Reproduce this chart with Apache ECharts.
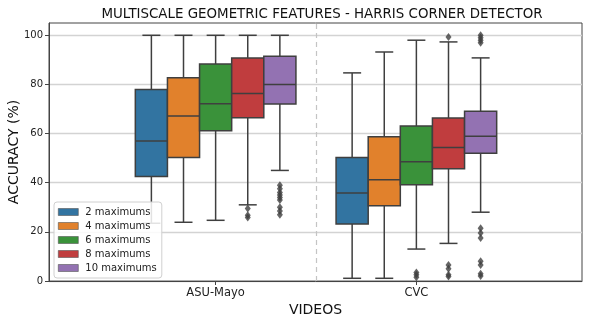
<!DOCTYPE html>
<html><head><meta charset="utf-8">
<script src="https://cdn.jsdelivr.net/npm/echarts@6/dist/echarts.min.js"></script>
<style>html,body{margin:0;padding:0;background:#fff}#c{width:589px;height:323px}</style>
</head><body><div id="c"></div>
<script>
const categories = ['ASU-Mayo', 'CVC'];
const seriesNames = ['2 maximums', '4 maximums', '6 maximums', '8 maximums', '10 maximums'];
// per category: [lower whisker, Q1, median, Q3, upper whisker]
const box2  = [[23.5, 42.5, 57.0, 77.9, 100], [1.1, 23.2, 35.8, 50.3, 84.7]];
const box4  = [[23.9, 50.3, 67.2, 82.7, 100], [1.1, 30.6, 41.2, 58.7, 93.2]];
const box6  = [[24.7, 61.1, 72.1, 88.3, 100], [13.0, 39.2, 48.5, 63.1, 98.0]];
const box8  = [[31.0, 66.4, 76.3, 90.8, 100], [15.3, 45.7, 54.3, 66.3, 97.3]];
const box10 = [[45.0, 72.0, 80.0, 91.5, 100], [28.0, 52.0, 58.9, 69.1, 90.8]];
// outliers per category
const out2  = [[], []];
const out4  = [[], []];
const out6  = [[], [3.5, 2.5, 1.5]];
const out8  = [[29.5, 26.8, 25.8], [99.3, 6.5, 5.0, 2.5, 1.8]];
const out10 = [[39, 37.5, 36, 35, 34, 33, 30, 28.5, 27], [100, 99, 98, 97, 21.5, 19.5, 17.5, 8, 6.5, 3, 2]];
const yTicks = [0, 20, 40, 60, 80, 100];

const colors = ['#3274A1', '#E1812C', '#3A923A', '#C03D3E', '#9372B2'];
const boxes = [box2, box4, box6, box8, box10];
const outs = [out2, out4, out6, out8, out10];
const EDGE = '#3f3f3f';
const HALF = 0.08;

function renderBox(params, api) {
  const x = api.value(0);
  const lo = api.value(1), q1 = api.value(2), md = api.value(3), q3 = api.value(4), hi = api.value(5);
  const a = api.coord([x - HALF, q3]);
  const b = api.coord([x + HALF, q1]);
  const c = api.coord([x, lo]);
  const d = api.coord([x, hi]);
  const m = api.coord([x, md]);
  const capHalf = (b[0] - a[0]) * 0.28;
  const ls = { stroke: EDGE, lineWidth: 1.5 };
  return {
    type: 'group',
    children: [
      { type: 'line', shape: { x1: c[0], y1: b[1], x2: c[0], y2: c[1] }, style: ls },
      { type: 'line', shape: { x1: d[0], y1: a[1], x2: d[0], y2: d[1] }, style: ls },
      { type: 'line', shape: { x1: c[0] - capHalf, y1: c[1], x2: c[0] + capHalf, y2: c[1] }, style: ls },
      { type: 'line', shape: { x1: d[0] - capHalf, y1: d[1], x2: d[0] + capHalf, y2: d[1] }, style: ls },
      { type: 'rect', shape: { x: a[0], y: a[1], width: b[0] - a[0], height: b[1] - a[1] },
        style: { fill: api.visual('color'), stroke: EDGE, lineWidth: 1.5 } },
      { type: 'line', shape: { x1: a[0], y1: m[1], x2: b[0], y2: m[1] }, style: ls }
    ]
  };
}

const series = [];
seriesNames.forEach(function (name, i) {
  const offset = (i - 2) * 2 * HALF;
  const data = boxes[i].map(function (s, ci) { return [ci + offset].concat(s); });
  const ser = {
    name: name, type: 'custom', renderItem: renderBox, data: data,
    itemStyle: { color: colors[i] }, z: 3,
    encode: { x: 0, y: [1, 2, 3, 4, 5] }
  };
  if (i === 0) {
    ser.markLine = {
      silent: true, symbol: 'none', label: { show: false },
      lineStyle: { type: [5, 4], color: '#c4c4c4', width: 1.2 },
      data: [{ xAxis: 0.5 }]
    };
  }
  series.push(ser);
  const od = [];
  outs[i].forEach(function (arr, ci) { arr.forEach(function (v) { od.push([ci + offset, v]); }); });
  series.push({
    name: 'outliers ' + name, type: 'scatter', data: od, symbol: 'diamond', symbolSize: [6, 8],
    itemStyle: { color: EDGE }, z: 4, silent: true
  });
});

const chart = echarts.init(document.getElementById('c'), null, { renderer: 'canvas' });
chart.setOption({
  animation: false,
  backgroundColor: '#fff',
  textStyle: { fontFamily: 'DejaVu Sans' },
  title: {
    text: 'MULTISCALE GEOMETRIC FEATURES - HARRIS CORNER DETECTOR',
    left: 317, top: 3, textAlign: 'center',
    textStyle: { fontFamily: 'DejaVu Sans', fontSize: 13.4, fontWeight: 'normal', color: '#111' }
  },
  legend: {
    data: seriesNames, orient: 'vertical', left: 54, top: 202,
    icon: 'rect', itemWidth: 20, itemHeight: 7, itemGap: 2,
    padding: [4, 5, 4, 4],
    backgroundColor: 'rgba(255,255,255,0.85)', borderColor: '#d0d0d0', borderWidth: 1, borderRadius: 3,
    itemStyle: { borderColor: '#555', borderWidth: 0.6 },
    textStyle: { fontFamily: 'DejaVu Sans', fontSize: 10, color: '#222', lineHeight: 12, padding: [0, 0, 0, 2] }
  },
  grid: { left: 49, right: 7, top: 23, bottom: 42, outerBoundsMode: 'none', containLabel: false,
    show: true, borderColor: '#444', borderWidth: 1, backgroundColor: 'transparent' },
  xAxis: {
    type: 'value', min: -0.83, max: 1.825,
    splitLine: { show: false },
    axisLine: { show: true, onZero: false, lineStyle: { color: '#444', width: 1 } },
    axisTick: { show: true, customValues: [0, 1], length: 4, lineStyle: { color: '#444' } },
    axisLabel: { customValues: [0, 1], formatter: function (v) { return categories[Math.round(v)]; },
      fontSize: 11.5, color: '#222', margin: 6 },
    name: 'VIDEOS', nameLocation: 'middle', nameGap: 22, nameMoveOverlap: false,
    nameTextStyle: { fontSize: 14, color: '#111' }
  },
  yAxis: {
    type: 'value', min: 0, max: 105, interval: 20,
    splitLine: { show: true, lineStyle: { color: '#d3d3d3', width: 1.3 } },
    axisLine: { show: true, onZero: false, lineStyle: { color: '#444', width: 1 } },
    axisTick: { show: true, customValues: yTicks, length: 4, lineStyle: { color: '#444' } },
    axisLabel: { customValues: yTicks, fontSize: 10, color: '#222', margin: 6 },
    name: 'ACCURACY (%)', nameLocation: 'middle', nameGap: 28, nameMoveOverlap: false,
    nameTextStyle: { fontSize: 14, color: '#111' }
  },
  series: series
});
</script>
</body></html>
